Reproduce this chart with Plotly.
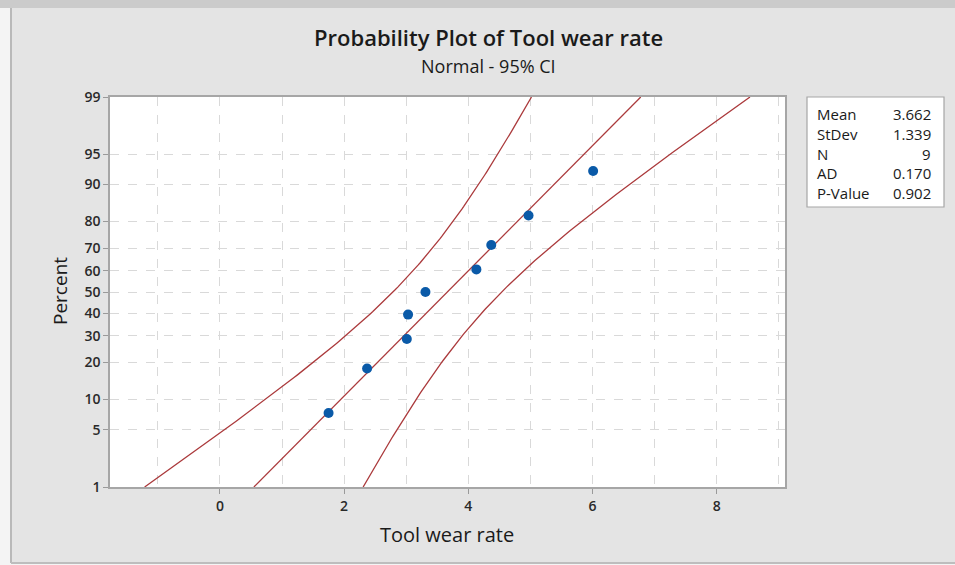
from statistics import NormalDist
import math
import plotly.graph_objects as go

# --- data -----------------------------------------------------------------
tool_wear = [1.75, 2.37, 3.01, 3.03, 3.31, 4.13, 4.37, 4.97, 6.01]
fit_mean = 3.662
fit_stdev = 1.339
stat_names = ["Mean", "StDev", "N", "AD", "P-Value"]
stat_values = ["3.662", "1.339", "9", "0.170", "0.902"]
pct_ticks = [1, 5, 10, 20, 30, 40, 50, 60, 70, 80, 90, 95, 99]
x_ticks = [0, 2, 4, 6, 8]

# --- probability scale helpers ---------------------------------------------
nd = NormalDist()
n = len(tool_wear)


def z_of(pct):
    return nd.inv_cdf(pct / 100.0)


# median ranks (Benard) for the plotting positions
xs = sorted(tool_wear)
ranks = [(i - 0.3) / (n + 0.4) * 100 for i in range(1, n + 1)]
ys = [z_of(p) for p in ranks]

# fitted percentile line and 95% confidence band
z_lo, z_hi = z_of(1), z_of(99)
steps = 160
zz = [z_lo + (z_hi - z_lo) * k / steps for k in range(steps + 1)]
crit = nd.inv_cdf(0.975)
fit_x = [fit_mean + z * fit_stdev for z in zz]
half = [crit * fit_stdev * math.sqrt(1.0 / n + z * z / (2.0 * (n - 1))) for z in zz]
band_lo = [f - h for f, h in zip(fit_x, half)]
band_hi = [f + h for f, h in zip(fit_x, half)]

# --- figure geometry (pixels) ------------------------------------------------
W, H = 955, 565
L, R, T, B = 110, 170, 97, 78
PW, PH = W - L - R, H - T - B


def px(x):
    return (x - L) / PW


def py(y):
    return (H - B - y) / PH


LINE = "#ab3a3c"
DOT = "#0a5aa8"
GRID = "#d9d9d9"
FONT = "Open Sans"
INK = "#1a1a1a"

fig = go.Figure()
for xv in (band_lo, fit_x, band_hi):
    fig.add_trace(go.Scatter(x=xv, y=zz, mode="lines",
                             line=dict(color=LINE, width=1.3),
                             hoverinfo="skip", showlegend=False))
fig.add_trace(go.Scatter(x=xs, y=ys, mode="markers",
                         marker=dict(color=DOT, size=10, line=dict(width=0)),
                         showlegend=False))

tickfont = dict(family=FONT, size=14, color="#2a2a2a", weight=600)
fig.update_xaxes(range=[-1.77, 9.1], tickvals=x_ticks,
                 ticktext=[str(v) for v in x_ticks],
                 ticks="outside", ticklen=5, tickcolor="#9a9a9a",
                 showgrid=True, gridcolor=GRID, griddash="dash", gridwidth=1,
                 minor=dict(dtick=1, tick0=0, showgrid=True, gridcolor=GRID,
                            griddash="dash", ticks=""),
                 showline=True, linecolor="#a6a6a6", linewidth=1.5, mirror=True,
                 zeroline=False, tickfont=tickfont)
fig.update_yaxes(range=[z_lo, z_hi], tickvals=[z_of(p) for p in pct_ticks],
                 ticktext=[str(p) for p in pct_ticks],
                 ticks="outside", ticklen=5, tickcolor="#9a9a9a",
                 showgrid=True, gridcolor=GRID, griddash="dash", gridwidth=1,
                 showline=True, linecolor="#a6a6a6", linewidth=1.5, mirror=True,
                 zeroline=False, tickfont=tickfont)

shapes = [
    # window frame: light left strip, dark top strip, bottom rule
    dict(type="rect", xref="paper", yref="paper", layer="below",
         x0=px(0), x1=px(11), y0=py(H), y1=py(0),
         fillcolor="#f4f4f4", line=dict(width=0)),
    dict(type="rect", xref="paper", yref="paper", layer="below",
         x0=px(0), x1=px(W), y0=py(8), y1=py(0),
         fillcolor="#cbcbcb", line=dict(width=0)),
    dict(type="line", xref="paper", yref="paper", layer="below",
         x0=px(11), x1=px(11), y0=py(563), y1=py(8),
         line=dict(color="#b9b9b9", width=2)),
    dict(type="line", xref="paper", yref="paper", layer="below",
         x0=px(11), x1=px(W), y0=py(563), y1=py(563),
         line=dict(color="#bdbdbd", width=2)),
    dict(type="rect", xref="paper", yref="paper", layer="below",
         x0=px(0), x1=px(W), y0=py(H), y1=py(564),
         fillcolor="#f4f4f4", line=dict(width=0)),
    # statistics box
    dict(type="rect", xref="paper", yref="paper",
         x0=px(807), x1=px(944), y0=py(207), y1=py(97),
         fillcolor="white", line=dict(color="#a6a6a6", width=1.2)),
]

annotations = [
    dict(text="Probability Plot of Tool wear rate", x=px(488), y=py(37),
         xref="paper", yref="paper", showarrow=False, xanchor="center",
         yanchor="middle", font=dict(family=FONT, size=22, color=INK, weight=600)),
    dict(text="Normal - 95% CI", x=px(488), y=py(66),
         xref="paper", yref="paper", showarrow=False, xanchor="center",
         yanchor="middle", font=dict(family=FONT, size=18, color=INK)),
    dict(text="Tool wear rate", x=px(447), y=py(534),
         xref="paper", yref="paper", showarrow=False, xanchor="center",
         yanchor="middle", font=dict(family=FONT, size=20, color=INK)),
    dict(text="Percent", x=px(60), y=py(291), textangle=-90,
         xref="paper", yref="paper", showarrow=False, xanchor="center",
         yanchor="middle", font=dict(family=FONT, size=19, color=INK)),
]
for i, (name, val) in enumerate(zip(stat_names, stat_values)):
    yy = py(114 + 19.8 * i)
    annotations.append(dict(text=name, x=px(815), y=yy, xref="paper",
                            yref="paper", showarrow=False, xanchor="left",
                            yanchor="middle",
                            font=dict(family=FONT, size=15, color=INK)))
    annotations.append(dict(text=val, x=px(933), y=yy, xref="paper",
                            yref="paper", showarrow=False, xanchor="right",
                            yanchor="middle",
                            font=dict(family=FONT, size=15, color=INK)))

fig.update_layout(width=W, height=H, autosize=False,
                  margin=dict(l=L, r=R, t=T, b=B, pad=0),
                  paper_bgcolor="#e4e4e4", plot_bgcolor="white",
                  shapes=shapes, annotations=annotations,
                  showlegend=False)

fig.write_html("out.html")
